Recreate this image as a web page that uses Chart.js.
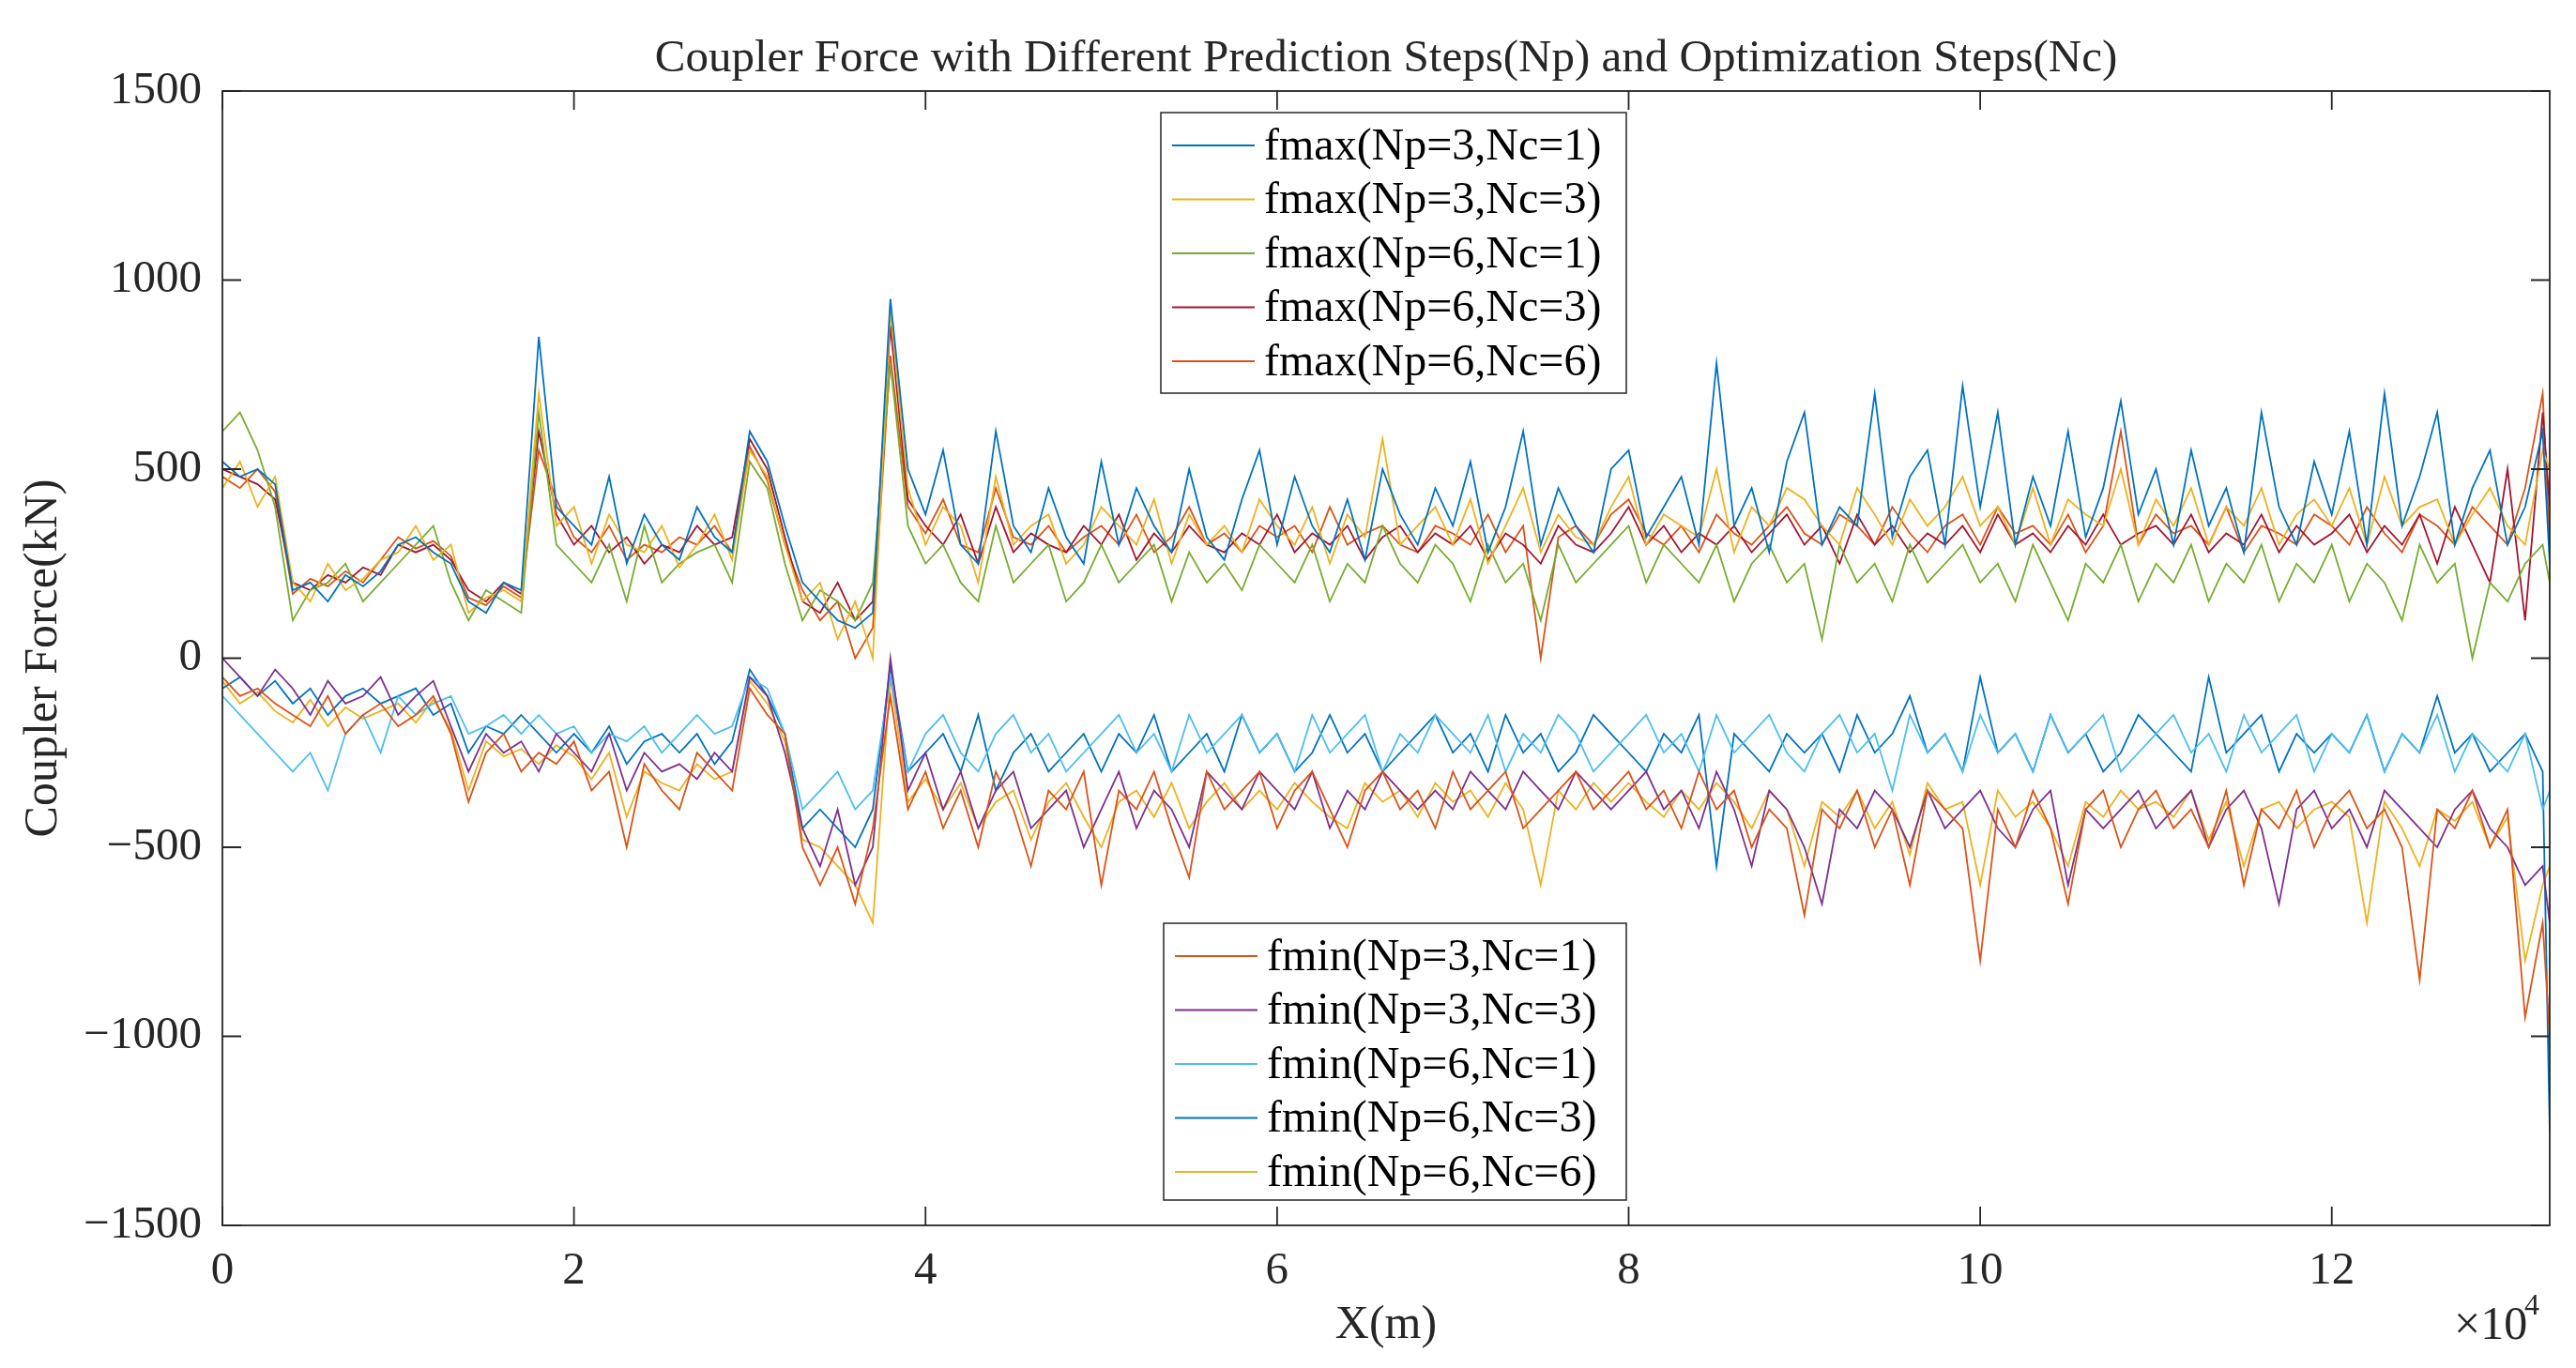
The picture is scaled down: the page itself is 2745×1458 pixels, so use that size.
<!DOCTYPE html>
<html><head><meta charset="utf-8">
<script src="https://cdn.jsdelivr.net/npm/chart.js@4"></script>
<style>html,body{margin:0;padding:0;background:#fff}#w{width:2745px;height:1458px}</style>
</head><body><div id="w"><canvas id="c"></canvas></div>
<script>
const xs=[0,0.1,0.2,0.3,0.4,0.5,0.6,0.7,0.8,0.9,1,1.1,1.2,1.3,1.4,1.5,1.6,1.7,1.8,1.9,2,2.1,2.2,2.3,2.4,2.5,2.6,2.7,2.8,2.9,3,3.1,3.2,3.3,3.4,3.5,3.6,3.7,3.8,3.9,4,4.1,4.2,4.3,4.4,4.5,4.6,4.7,4.8,4.9,5,5.1,5.2,5.3,5.4,5.5,5.6,5.7,5.8,5.9,6,6.1,6.2,6.3,6.4,6.5,6.6,6.7,6.8,6.9,7,7.1,7.2,7.3,7.4,7.5,7.6,7.7,7.8,7.9,8,8.1,8.2,8.3,8.4,8.5,8.6,8.7,8.8,8.9,9,9.1,9.2,9.3,9.4,9.5,9.6,9.7,9.8,9.9,10,10.1,10.2,10.3,10.4,10.5,10.6,10.7,10.8,10.9,11,11.1,11.2,11.3,11.4,11.5,11.6,11.7,11.8,11.9,12,12.1,12.2,12.3,12.4,12.5,12.6,12.7,12.8,12.9,13,13.1,13.2,13.24];
const fmax_3_1=[520,480,500,460,180,200,150,220,190,230,300,320,280,250,150,120,200,180,850,400,350,300,480,250,380,300,260,400,320,280,600,520,350,200,150,100,80,120,950,500,380,550,300,250,600,350,280,450,320,250,520,300,450,350,280,500,320,260,420,550,300,480,350,280,420,260,500,380,300,450,350,520,280,400,600,300,450,350,280,500,550,320,400,480,300,780,350,450,280,520,650,300,400,350,700,320,480,550,300,720,400,650,300,480,350,600,320,450,680,380,500,300,550,350,450,280,650,400,300,520,380,600,300,700,350,480,650,300,450,550,300,400,600,250];
const fmax_3_3=[450,520,400,480,200,150,250,180,210,260,280,350,260,300,120,160,180,150,700,350,400,250,380,300,280,350,240,300,380,260,550,480,300,150,200,50,150,0,920,450,300,400,350,200,480,300,350,380,250,300,400,350,300,420,250,380,300,350,280,420,350,300,400,250,380,320,580,300,350,400,300,420,250,350,450,280,380,320,300,400,480,300,380,350,320,500,280,400,350,450,420,350,300,450,380,300,420,350,400,480,350,400,300,450,300,420,380,350,500,300,420,350,450,300,400,350,450,300,380,420,350,450,300,480,350,400,420,300,380,450,350,300,550,500];
const fmax_6_1=[600,650,550,400,100,180,200,250,150,200,250,300,350,200,100,180,150,120,650,300,250,200,300,150,350,200,250,280,300,200,520,450,250,100,180,150,100,200,780,350,250,300,200,150,350,200,250,300,150,200,300,200,250,300,150,280,200,250,180,300,250,200,300,150,250,200,350,250,200,300,250,150,300,200,250,100,300,200,250,300,350,200,300,250,200,300,150,250,300,200,250,50,300,200,250,150,300,200,250,300,200,250,150,300,200,100,250,200,300,150,250,200,300,150,250,200,300,150,250,200,300,150,250,200,100,300,200,250,0,200,150,250,300,200];
const fmax_6_3=[500,480,460,420,200,180,220,200,240,220,300,280,300,260,180,150,200,170,600,380,300,350,280,320,250,300,280,350,300,320,580,500,320,150,120,200,100,150,880,420,350,300,380,250,400,280,330,300,280,350,300,380,260,330,280,350,300,280,330,300,380,280,330,300,350,260,320,350,280,330,300,350,260,330,300,250,350,300,280,330,400,300,350,280,330,300,350,280,330,380,300,350,250,380,300,350,280,330,300,350,280,380,300,330,280,350,300,380,300,330,350,300,380,280,330,300,380,280,350,300,330,380,280,350,300,380,250,400,300,200,500,100,650,400];
const fmax_6_6=[480,450,500,440,170,210,190,230,200,260,320,290,310,270,160,140,190,160,550,420,320,280,350,260,300,280,320,300,350,280,560,470,300,180,100,150,0,80,800,400,330,420,300,280,450,320,300,350,280,320,350,300,380,280,320,400,300,330,280,350,320,350,280,400,300,330,350,300,280,350,330,300,380,280,350,0,320,350,300,380,420,330,300,350,280,380,330,300,350,400,330,300,380,350,300,400,330,280,350,380,300,400,330,350,300,380,280,350,600,300,380,330,350,300,400,280,350,330,300,380,350,300,400,330,280,380,350,300,400,350,300,450,700,300];
const fmin_3_1=[-50,-100,-80,-120,-150,-180,-100,-200,-150,-120,-180,-150,-100,-200,-380,-250,-200,-300,-250,-280,-220,-350,-300,-500,-280,-350,-400,-250,-300,-350,-80,-150,-200,-500,-600,-500,-650,-450,-100,-400,-300,-450,-350,-500,-300,-400,-550,-350,-400,-300,-600,-350,-400,-300,-450,-580,-300,-400,-350,-300,-450,-350,-300,-400,-500,-350,-300,-400,-350,-450,-300,-400,-350,-300,-450,-400,-350,-300,-400,-350,-300,-400,-350,-450,-300,-400,-350,-500,-400,-450,-680,-400,-450,-350,-500,-400,-600,-350,-400,-450,-800,-400,-500,-350,-450,-650,-400,-350,-500,-400,-350,-450,-400,-500,-350,-600,-400,-450,-350,-500,-400,-350,-450,-400,-500,-850,-400,-450,-350,-500,-400,-950,-700,-1000];
const fmin_3_3=[0,-50,-100,-30,-80,-150,-60,-120,-100,-50,-150,-100,-60,-180,-300,-200,-250,-220,-300,-200,-250,-300,-200,-350,-250,-300,-280,-320,-250,-300,-50,-100,-250,-450,-550,-400,-600,-500,0,-350,-250,-400,-300,-450,-350,-300,-450,-400,-350,-500,-400,-300,-450,-350,-400,-500,-300,-350,-400,-300,-350,-400,-300,-450,-350,-400,-300,-350,-400,-350,-400,-300,-350,-400,-300,-350,-400,-300,-350,-400,-350,-300,-400,-350,-450,-300,-400,-550,-350,-400,-500,-650,-400,-450,-350,-400,-500,-350,-450,-400,-350,-450,-500,-400,-350,-600,-400,-450,-400,-350,-450,-400,-350,-500,-400,-350,-450,-650,-400,-350,-450,-400,-500,-350,-400,-450,-500,-400,-350,-450,-500,-600,-550,-700];
const fmin_6_1=[-100,-150,-200,-250,-300,-250,-350,-200,-150,-250,-100,-150,-120,-100,-200,-180,-150,-200,-150,-200,-180,-250,-200,-220,-180,-250,-200,-150,-200,-180,-50,-80,-200,-400,-350,-300,-400,-350,-50,-300,-200,-150,-250,-300,-200,-150,-250,-200,-300,-250,-200,-150,-250,-200,-300,-150,-250,-200,-150,-250,-200,-300,-150,-250,-200,-150,-300,-200,-250,-150,-200,-250,-150,-300,-200,-250,-150,-200,-300,-250,-200,-150,-250,-200,-300,-150,-250,-200,-150,-250,-300,-200,-150,-250,-200,-350,-150,-250,-200,-300,-150,-250,-200,-300,-150,-250,-200,-150,-300,-250,-200,-150,-250,-200,-300,-150,-250,-200,-150,-300,-200,-250,-150,-300,-200,-250,-150,-300,-200,-250,-300,-200,-400,-350];
const fmin_6_3=[-80,-50,-100,-60,-120,-80,-150,-100,-80,-120,-100,-80,-150,-120,-250,-180,-200,-150,-200,-250,-200,-250,-180,-280,-220,-200,-250,-200,-280,-220,-30,-100,-200,-450,-400,-450,-500,-400,-20,-300,-250,-200,-300,-150,-350,-250,-200,-300,-250,-200,-300,-200,-250,-150,-300,-250,-200,-300,-150,-250,-200,-300,-250,-150,-250,-200,-300,-250,-200,-150,-250,-200,-300,-150,-250,-200,-300,-250,-150,-200,-250,-300,-200,-250,-150,-550,-200,-250,-300,-200,-250,-200,-300,-150,-250,-200,-100,-250,-200,-300,-50,-250,-200,-300,-150,-250,-200,-300,-250,-150,-200,-250,-300,-50,-250,-200,-150,-300,-200,-250,-200,-250,-150,-300,-200,-250,-100,-250,-200,-300,-250,-200,-300,-1250];
const fmin_6_6=[-60,-120,-90,-140,-170,-110,-180,-130,-160,-140,-120,-170,-110,-190,-350,-220,-260,-240,-280,-230,-260,-320,-250,-420,-300,-330,-350,-280,-320,-300,-60,-120,-220,-480,-500,-550,-600,-700,-50,-380,-320,-400,-330,-450,-380,-350,-480,-380,-330,-420,-500,-380,-350,-420,-330,-450,-380,-330,-400,-350,-400,-330,-380,-420,-450,-330,-380,-350,-420,-330,-380,-350,-420,-330,-400,-600,-350,-400,-330,-380,-330,-380,-420,-350,-400,-330,-380,-450,-350,-400,-550,-380,-420,-350,-450,-380,-520,-330,-400,-380,-600,-350,-420,-380,-450,-550,-380,-420,-350,-400,-380,-420,-350,-480,-380,-550,-400,-380,-450,-400,-380,-420,-700,-380,-450,-550,-400,-430,-380,-500,-420,-800,-600,-550];
const yTicks=[-1500,-1000,-500,0,500,1000,1500];
const xTicks=[0,2,4,6,8,10,12];

const maxSeries=[["fmax(Np=3,Nc=1)",fmax_3_1,"#0072BD"],["fmax(Np=3,Nc=3)",fmax_3_3,"#EDB120"],["fmax(Np=6,Nc=1)",fmax_6_1,"#77AC30"],["fmax(Np=6,Nc=3)",fmax_6_3,"#A2142F"],["fmax(Np=6,Nc=6)",fmax_6_6,"#D95319"]];
const minSeries=[["fmin(Np=3,Nc=1)",fmin_3_1,"#D95319"],["fmin(Np=3,Nc=3)",fmin_3_3,"#7E2F8E"],["fmin(Np=6,Nc=1)",fmin_6_1,"#4DBEEE"],["fmin(Np=6,Nc=3)",fmin_6_3,"#0072BD"],["fmin(Np=6,Nc=6)",fmin_6_6,"#EDB120"]];
const mk=(s,g)=>({label:s[0],group:g,data:s[1].map((v,i)=>({x:xs[i],y:v})),borderColor:s[2],backgroundColor:s[2],borderWidth:1.8,pointRadius:0,tension:0});
const datasets=[...maxSeries.map(s=>mk(s,0)),...minSeries.map(s=>mk(s,1))];
const FONT='"Liberation Serif", "DejaVu Serif", serif';
const minus=v=>String(v).replace('-','\u2212');

const deco={id:'deco',afterDraw(ch){
  const c=ch.ctx,a=ch.chartArea;
  c.save();
  c.strokeStyle='#262626';c.lineWidth=1.8;
  c.strokeRect(a.left,a.top,a.right-a.left,a.bottom-a.top);
  const xs_=ch.scales.x,ys_=ch.scales.y;
  c.beginPath();
  xTicks.forEach(t=>{const p=xs_.getPixelForValue(t);c.moveTo(p,a.bottom);c.lineTo(p,a.bottom-20);c.moveTo(p,a.top);c.lineTo(p,a.top+20);});
  yTicks.forEach(t=>{const p=ys_.getPixelForValue(t);c.moveTo(a.left,p);c.lineTo(a.left+20,p);c.moveTo(a.right,p);c.lineTo(a.right-20,p);});
  c.stroke();
  c.fillStyle='#262626';c.textAlign='center';c.textBaseline='middle';
  c.font='49px '+FONT;
  c.fillText('Coupler Force with Different Prediction Steps(Np) and Optimization Steps(Nc)',(a.left+a.right)/2,63);
  c.font='50px '+FONT;
  c.fillText('X(m)',(a.left+a.right)/2,1413);
  c.save();c.translate(47,(a.top+a.bottom)/2);c.rotate(-Math.PI/2);c.fillText('Coupler Force(kN)',0,0);c.restore();
  c.textAlign='left';c.font='50px '+FONT;c.fillText('\u00d710',2615,1414);
  c.font='32px '+FONT;c.fillText('4',2690,1393);
  const boxes=[[1237,120,496,299,0],[1240,984,493,295,1]];
  boxes.forEach(([x,y,w,h,g])=>{
    c.fillStyle='#fff';c.fillRect(x,y,w,h);
    c.strokeStyle='#262626';c.lineWidth=1.5;c.strokeRect(x,y,w,h);
    const ds=ch.data.datasets.filter(d=>d.group===g);
    ds.forEach((d,i)=>{
      const yy=y+35+i*57.5;
      c.strokeStyle=d.borderColor;c.lineWidth=2;
      c.beginPath();c.moveTo(x+12,yy);c.lineTo(x+100,yy);c.stroke();
      c.fillStyle='#000';c.font='48px '+FONT;c.textBaseline='middle';
      c.fillText(d.label,x+110,yy+2);
    });
  });
  c.restore();
}};

new Chart(document.getElementById('c'),{
  type:'line',
  data:{datasets},
  options:{
    responsive:true,maintainAspectRatio:false,animation:false,
    layout:{padding:{top:97,right:28,left:0,bottom:0}},
    plugins:{legend:{display:false},title:{display:false},tooltip:{enabled:false}},
    scales:{
      x:{type:'linear',min:0,max:13.24,
        afterFit:s=>{s.height=152;},
        afterBuildTicks:s=>{s.ticks=xTicks.map(v=>({value:v}));},
        grid:{display:false},border:{display:false},
        ticks:{color:'#262626',font:{family:FONT,size:49},padding:12,maxRotation:0,callback:v=>minus(v)}},
      y:{type:'linear',min:-1500,max:1500,
        afterFit:s=>{s.width=237;},
        afterBuildTicks:s=>{s.ticks=yTicks.map(v=>({value:v}));},
        grid:{display:false},border:{display:false},
        ticks:{color:'#262626',font:{family:FONT,size:49},padding:14,callback:v=>minus(v)}}
    }
  },
  plugins:[deco]
});
</script></body></html>
